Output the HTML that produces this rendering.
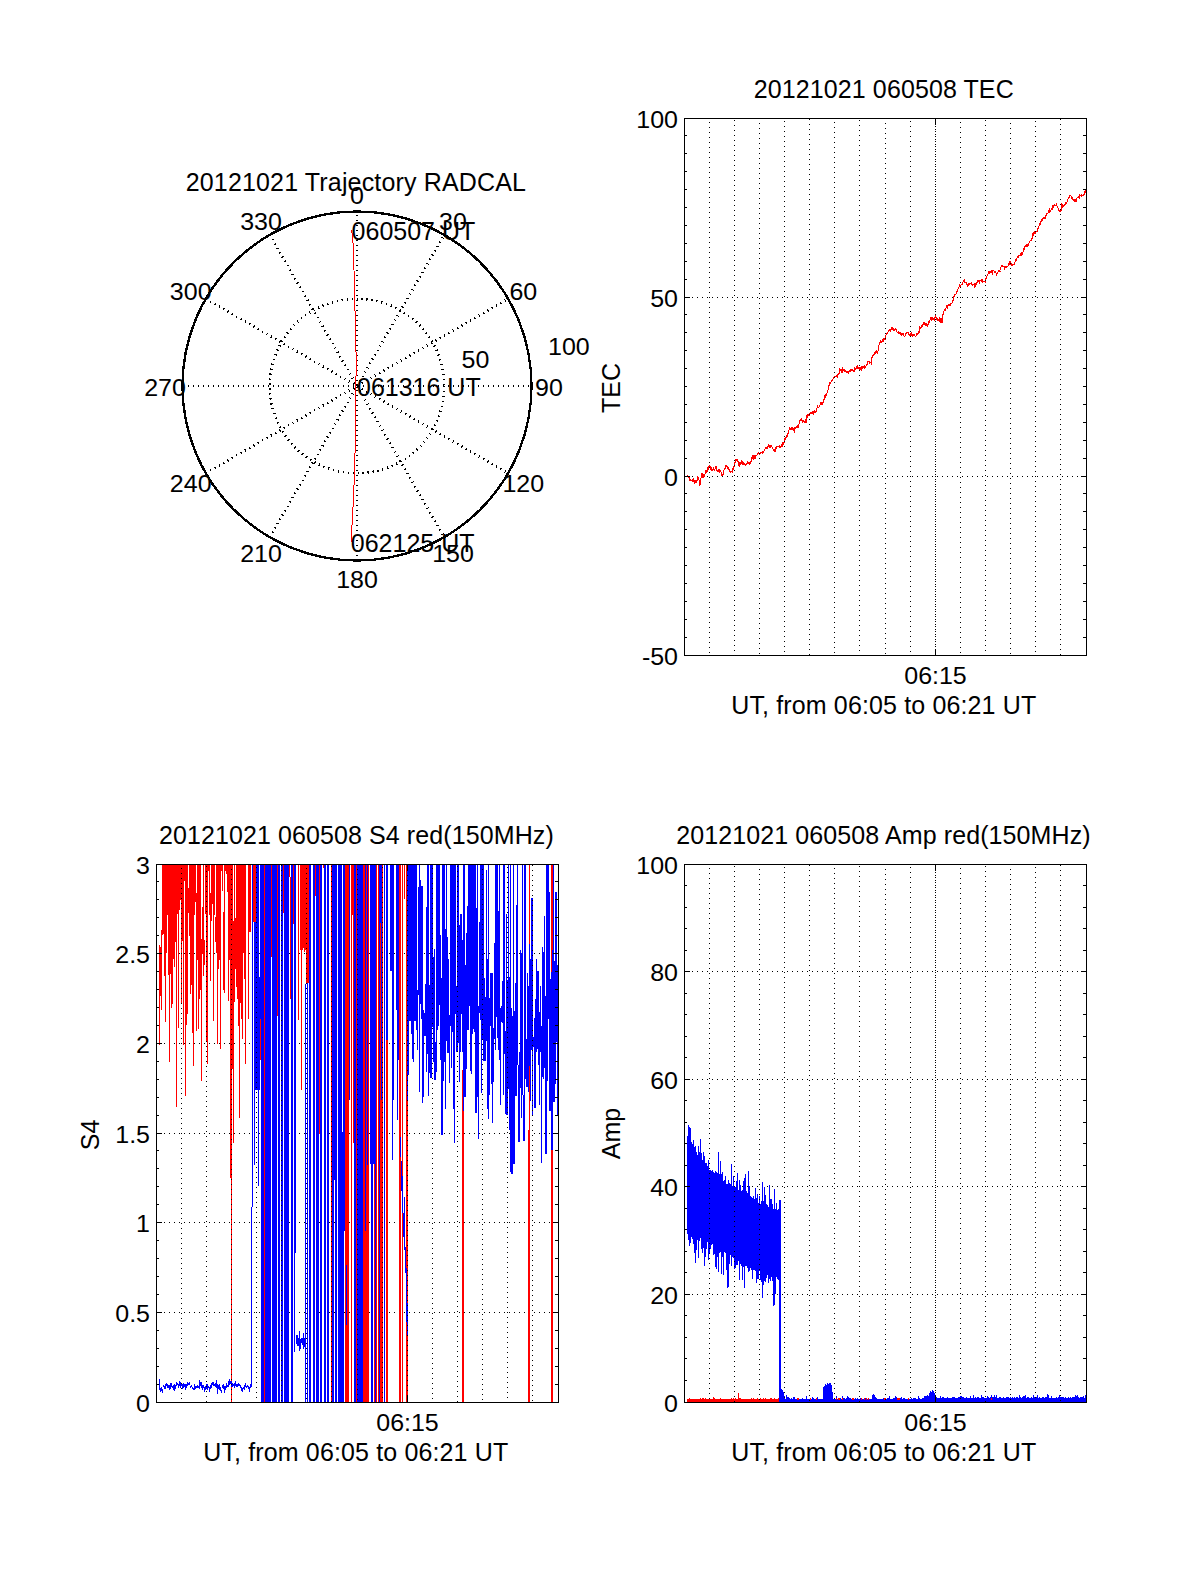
<!DOCTYPE html>
<html lang="en">
<head>
<meta charset="utf-8">
<title>20121021 RADCAL TEC / S4 / Amp</title>
<style>
html,body{margin:0;padding:0;background:#fff;}
body{width:1200px;height:1575px;overflow:hidden;font-family:"Liberation Sans",sans-serif;}
svg{display:block;}
text{font-family:"Liberation Sans",sans-serif;}
</style>
</head>
<body>
<svg width="1200" height="1575" viewBox="0 0 1200 1575">
<rect width="1200" height="1575" fill="#fff"/>
<g id="polar"><g stroke="#000" stroke-width="2.5" fill="none" shape-rendering="crispEdges" stroke-dasharray="1.25 3.75">
<circle cx="357.0" cy="386.0" r="87.25"/>
<line x1="357.00" y1="560.50" x2="357.00" y2="211.50" stroke-width="2" stroke-dasharray="1 4"/>
<line x1="269.75" y1="537.12" x2="444.25" y2="234.88"/>
<line x1="205.88" y1="473.25" x2="508.12" y2="298.75"/>
<line x1="182.50" y1="386.00" x2="531.50" y2="386.00" stroke-width="2" stroke-dasharray="1 4"/>
<line x1="205.88" y1="298.75" x2="508.12" y2="473.25"/>
<line x1="269.75" y1="234.88" x2="444.25" y2="537.12"/>
</g>
<circle cx="357.0" cy="386.0" r="174.5" stroke="#000" stroke-width="2.4" fill="none" shape-rendering="crispEdges"/>
<polyline fill="none" stroke="#f00" stroke-width="1" shape-rendering="crispEdges" points="351.5,230.5 352.5,236 353.5,249 354.5,290 355.5,330 356.2,360 355.9,386 355.5,430 354.7,468 353.3,502 352,525 351.0,542"/>
<g font-family="Liberation Sans, sans-serif" font-size="25" fill="#000">
<text transform="translate(357.0 204.1) scale(1 0.945)" text-anchor="middle" >0</text>
<text transform="translate(453.0 229.8) scale(1 0.945)" text-anchor="middle" >30</text>
<text transform="translate(523.3 300.1) scale(1 0.945)" text-anchor="middle" >60</text>
<text transform="translate(549.0 396.1) scale(1 0.945)" text-anchor="middle" >90</text>
<text transform="translate(523.3 492.1) scale(1 0.945)" text-anchor="middle" >120</text>
<text transform="translate(453.0 562.4) scale(1 0.945)" text-anchor="middle" >150</text>
<text transform="translate(357.0 588.1) scale(1 0.945)" text-anchor="middle" >180</text>
<text transform="translate(261.0 562.4) scale(1 0.945)" text-anchor="middle" >210</text>
<text transform="translate(190.7 492.1) scale(1 0.945)" text-anchor="middle" >240</text>
<text transform="translate(165.0 396.1) scale(1 0.945)" text-anchor="middle" >270</text>
<text transform="translate(190.7 300.1) scale(1 0.945)" text-anchor="middle" >300</text>
<text transform="translate(261.0 229.8) scale(1 0.945)" text-anchor="middle" >330</text>
<text transform="translate(461.6 367.5) scale(1 0.945)" text-anchor="start" >50</text>
<text transform="translate(548.0 355.3) scale(1 0.945)" text-anchor="start" >100</text>
<text x="351.6" y="240.2" text-anchor="start" >060507 UT</text>
<text x="357.0" y="395.5" text-anchor="start" >061316 UT</text>
<text x="350.8" y="552.0" text-anchor="start" >062125 UT</text>
<text x="185.7" y="190.5" text-anchor="start" letter-spacing="0.16">20121021 Trajectory RADCAL</text>
</g></g>
<g id="tec">
<g stroke="#000" stroke-width="1" shape-rendering="crispEdges" fill="none">
<line x1="935.5" y1="119" x2="935.5" y2="655" stroke-dasharray="1 4" stroke-dashoffset="-2"/>
<line x1="685" y1="297.5" x2="1086" y2="297.5" stroke-dasharray="1 4" stroke-dashoffset="-2"/>
<line x1="685" y1="476.5" x2="1086" y2="476.5" stroke-dasharray="1 4" stroke-dashoffset="-2"/>
</g>
<path d="M687.0,477.4 687.3,474.8 687.7,476.0 688.0,477.0 688.4,476.1 688.7,477.6 689.0,478.2 689.4,476.5 689.7,480.3 690.1,480.1 690.4,479.0 690.7,479.9 691.1,481.0 691.4,480.4 691.8,480.8 692.1,479.4 692.4,481.7 692.8,480.9 693.1,480.8 693.5,478.3 693.8,482.0 694.1,480.2 694.5,480.0 694.8,483.6 695.2,481.5 695.5,480.3 695.8,482.2 696.2,479.6 696.5,483.0 696.9,480.3 697.2,479.0 697.5,480.5 697.9,476.2 698.2,479.3 698.6,477.0 698.9,479.8 699.2,480.0 699.6,484.4 699.9,485.7 700.3,481.8 700.6,481.3 700.9,478.1 701.3,477.0 701.6,474.9 702.0,473.6 702.3,473.3 702.6,475.9 703.0,478.0 703.3,475.4 703.7,474.2 704.0,477.1 704.3,474.9 704.7,474.5 705.0,474.2 705.4,473.2 705.7,472.4 706.0,470.5 706.4,472.4 706.7,471.1 707.1,472.1 707.4,469.6 707.7,467.1 708.1,468.7 708.4,470.4 708.8,467.2 709.1,466.0 709.4,465.3 709.8,465.7 710.1,466.9 710.5,466.0 710.8,469.6 711.1,467.7 711.5,468.4 711.8,470.3 712.2,470.6 712.5,468.7 712.8,469.5 713.2,470.2 713.5,469.2 713.9,467.4 714.2,470.6 714.5,471.1 714.9,470.0 715.2,467.5 715.6,467.5 715.9,466.2 716.2,466.9 716.6,469.6 716.9,470.7 717.3,470.4 717.6,471.1 717.9,472.0 718.3,471.0 718.6,470.6 719.0,469.5 719.3,470.0 719.6,472.5 720.0,470.4 720.3,470.1 720.7,471.2 721.0,471.9 721.3,474.7 721.7,476.0 722.0,474.8 722.4,476.1 722.7,473.7 723.0,475.1 723.4,472.4 723.7,473.2 724.1,469.4 724.4,468.5 724.7,468.3 725.1,468.9 725.4,468.0 725.8,465.4 726.1,466.8 726.4,466.3 726.8,465.6 727.1,465.9 727.5,469.4 727.8,467.2 728.1,467.2 728.5,469.5 728.8,469.4 729.2,469.6 729.5,471.1 729.8,471.1 730.2,471.3 730.5,472.4 730.9,471.9 731.2,471.1 731.5,471.8 731.9,471.9 732.2,472.4 732.6,470.0 732.9,468.3 733.2,469.9 733.6,467.3 733.9,465.7 734.3,467.0 734.6,463.8 734.9,463.5 735.3,460.3 735.6,459.3 736.0,459.1 736.3,460.0 736.6,460.3 737.0,459.6 737.3,460.3 737.7,459.5 738.0,462.2 738.3,460.8 738.7,463.6 739.0,465.5 739.4,466.6 739.7,466.8 740.0,462.1 740.4,464.3 740.7,464.3 741.1,463.3 741.4,460.5 741.7,462.5 742.1,464.6 742.4,460.7 742.8,463.4 743.1,464.5 743.4,462.6 743.8,464.5 744.1,462.8 744.5,463.4 744.8,463.8 745.1,465.4 745.5,465.0 745.8,465.9 746.2,463.1 746.5,463.7 746.8,464.7 747.2,463.7 747.5,460.9 747.9,463.0 748.2,461.7 748.5,463.2 748.9,463.5 749.2,465.2 749.6,464.2 749.9,462.2 750.2,462.2 750.6,463.6 750.9,461.3 751.3,461.9 751.6,459.7 751.9,457.3 752.3,459.3 752.6,456.8 753.0,455.1 753.3,460.1 753.6,455.1 754.0,458.1 754.3,458.5 754.7,457.5 755.0,455.2 755.3,458.6 755.7,455.5 756.0,455.6 756.4,455.8 756.7,456.2 757.0,454.6 757.4,454.4 757.7,452.9 758.1,453.3 758.4,452.2 758.7,453.3 759.1,454.5 759.4,453.5 759.8,454.5 760.1,453.2 760.4,452.7 760.8,453.0 761.1,452.3 761.5,452.8 761.8,451.8 762.1,453.6 762.5,451.5 762.8,451.9 763.2,451.2 763.5,452.3 763.8,452.3 764.2,449.8 764.5,449.8 764.9,450.0 765.2,448.2 765.5,447.2 765.9,448.9 766.2,447.7 766.6,447.9 766.9,448.7 767.2,448.5 767.6,446.4 767.9,446.0 768.3,447.0 768.6,446.4 768.9,444.1 769.3,447.9 769.6,446.3 770.0,447.1 770.3,444.6 770.6,447.6 771.0,445.6 771.3,446.5 771.7,445.2 772.0,447.1 772.3,447.4 772.7,447.8 773.0,449.1 773.4,449.2 773.7,450.9 774.0,449.7 774.4,449.6 774.7,451.2 775.1,451.2 775.4,451.2 775.7,449.8 776.1,445.8 776.4,447.7 776.8,448.5 777.1,446.6 777.4,445.8 777.8,446.8 778.1,445.7 778.5,447.0 778.8,446.1 779.1,447.8 779.5,446.7 779.8,445.3 780.2,447.0 780.5,447.6 780.8,445.8 781.2,446.1 781.5,443.6 781.9,447.3 782.2,445.1 782.5,442.8 782.9,442.9 783.2,444.5 783.6,444.9 783.9,442.7 784.2,442.2 784.6,439.1 784.9,437.7 785.3,439.4 785.6,438.3 785.9,437.2 786.3,438.3 786.6,435.1 787.0,435.3 787.3,436.7 787.6,436.6 788.0,433.2 788.3,434.1 788.7,430.2 789.0,430.2 789.3,428.4 789.7,426.7 790.0,429.0 790.4,429.8 790.7,428.5 791.0,428.6 791.4,430.4 791.7,427.1 792.1,426.8 792.4,428.0 792.7,427.4 793.1,430.7 793.4,429.5 793.8,428.2 794.1,428.5 794.4,432.5 794.8,427.8 795.1,427.3 795.5,428.3 795.8,428.3 796.1,427.6 796.5,426.2 796.8,425.9 797.2,428.1 797.5,427.3 797.8,425.3 798.2,428.3 798.5,426.7 798.9,424.5 799.2,423.4 799.5,423.0 799.9,420.8 800.2,419.5 800.6,421.4 800.9,418.9 801.2,421.0 801.6,418.5 801.9,419.9 802.3,420.2 802.6,423.0 802.9,419.9 803.3,419.9 803.6,421.4 804.0,421.2 804.3,421.5 804.6,422.3 805.0,422.3 805.3,423.0 805.7,419.5 806.0,423.3 806.3,421.9 806.7,418.6 807.0,415.4 807.4,417.6 807.7,417.3 808.0,413.7 808.4,416.1 808.7,415.2 809.1,413.9 809.4,415.1 809.7,415.0 810.1,412.7 810.4,413.6 810.8,412.5 811.1,412.4 811.4,413.4 811.8,414.0 812.1,412.6 812.5,410.6 812.8,414.0 813.1,411.0 813.5,412.9 813.8,414.7 814.2,412.2 814.5,410.5 814.8,409.9 815.2,412.9 815.5,411.1 815.9,411.3 816.2,411.3 816.5,409.7 816.9,408.9 817.2,407.6 817.6,405.1 817.9,406.4 818.2,407.7 818.6,406.9 818.9,407.1 819.3,405.8 819.6,405.6 819.9,405.8 820.3,403.3 820.6,403.8 821.0,401.9 821.3,404.8 821.6,403.4 822.0,403.7 822.3,404.7 822.7,403.9 823.0,402.2 823.3,403.0 823.7,399.1 824.0,400.3 824.4,398.8 824.7,395.4 825.0,398.0 825.4,394.4 825.7,395.7 826.1,393.8 826.4,395.2 826.7,395.1 827.1,392.0 827.4,390.3 827.8,390.4 828.1,389.9 828.4,386.7 828.8,385.1 829.1,386.0 829.5,381.6 829.8,383.8 830.1,382.4 830.5,384.1 830.8,382.4 831.2,381.5 831.5,381.9 831.8,379.8 832.2,381.0 832.5,379.4 832.9,379.1 833.2,378.0 833.5,379.4 833.9,377.4 834.2,377.8 834.6,377.6 834.9,375.7 835.2,377.2 835.6,376.7 835.9,376.4 836.3,375.3 836.6,375.1 836.9,376.4 837.3,377.9 837.6,373.9 838.0,375.4 838.3,373.6 838.6,374.4 839.0,373.3 839.3,373.4 839.7,367.9 840.0,369.9 840.3,369.4 840.7,370.5 841.0,369.8 841.4,369.9 841.7,371.5 842.0,373.0 842.4,367.1 842.7,370.3 843.1,371.1 843.4,370.7 843.7,370.2 844.1,369.0 844.4,369.5 844.8,371.6 845.1,372.2 845.4,371.2 845.8,370.2 846.1,371.5 846.5,371.3 846.8,372.4 847.1,372.1 847.5,371.3 847.8,372.5 848.2,370.9 848.5,373.6 848.8,373.9 849.2,370.6 849.5,372.1 849.9,369.9 850.2,372.1 850.5,371.5 850.9,369.6 851.2,370.7 851.6,369.0 851.9,369.1 852.2,369.5 852.6,370.4 852.9,370.5 853.3,371.5 853.6,370.2 853.9,371.6 854.3,371.5 854.6,369.2 855.0,367.6 855.3,369.9 855.6,370.0 856.0,368.0 856.3,366.1 856.7,367.7 857.0,369.4 857.3,365.3 857.7,368.4 858.0,367.6 858.4,367.1 858.7,369.0 859.0,366.9 859.4,369.1 859.7,370.5 860.1,369.3 860.4,368.1 860.7,367.1 861.1,367.5 861.4,366.5 861.8,370.6 862.1,368.1 862.4,366.8 862.8,366.3 863.1,366.4 863.5,367.1 863.8,365.6 864.1,369.1 864.5,365.9 864.8,365.5 865.2,366.5 865.5,367.5 865.8,367.0 866.2,364.3 866.5,364.8 866.9,364.3 867.2,364.4 867.5,363.6 867.9,361.7 868.2,360.9 868.6,362.3 868.9,360.6 869.2,364.0 869.6,362.5 869.9,361.3 870.3,362.4 870.6,362.3 870.9,363.0 871.3,364.5 871.6,359.8 872.0,357.2 872.3,358.0 872.6,355.3 873.0,355.2 873.3,355.2 873.7,354.1 874.0,355.0 874.3,352.5 874.7,353.4 875.0,351.9 875.4,351.2 875.7,353.3 876.0,353.2 876.4,350.0 876.7,350.9 877.1,352.6 877.4,353.5 877.7,351.2 878.1,351.1 878.4,346.9 878.8,349.1 879.1,343.8 879.4,342.4 879.8,342.1 880.1,342.3 880.5,341.9 880.8,340.6 881.1,341.9 881.5,341.0 881.8,342.5 882.2,339.8 882.5,340.0 882.8,341.3 883.2,341.6 883.5,339.8 883.9,338.3 884.2,338.6 884.5,337.7 884.9,340.3 885.2,338.6 885.6,338.1 885.9,335.7 886.2,333.5 886.6,334.4 886.9,334.5 887.3,332.9 887.6,331.9 887.9,333.0 888.3,330.9 888.6,332.1 889.0,329.9 889.3,329.3 889.6,331.0 890.0,330.4 890.3,332.3 890.7,329.4 891.0,329.6 891.3,328.0 891.7,327.0 892.0,327.0 892.4,329.6 892.7,327.4 893.0,330.2 893.4,330.5 893.7,328.4 894.1,330.9 894.4,329.2 894.7,330.4 895.1,328.8 895.4,330.4 895.8,328.1 896.1,330.3 896.4,329.5 896.8,330.5 897.1,332.0 897.5,332.0 897.8,332.2 898.1,333.6 898.5,333.8 898.8,331.2 899.2,333.8 899.5,334.0 899.8,332.3 900.2,333.9 900.5,331.9 900.9,335.4 901.2,333.4 901.5,333.7 901.9,335.5 902.2,334.0 902.6,335.2 902.9,333.4 903.2,334.2 903.6,333.4 903.9,335.2 904.3,337.0 904.6,336.2 904.9,336.7 905.3,333.8 905.6,333.5 906.0,333.5 906.3,334.3 906.6,333.5 907.0,332.5 907.3,332.8 907.7,332.1 908.0,332.6 908.3,334.6 908.7,332.6 909.0,333.9 909.4,336.0 909.7,334.5 910.0,335.6 910.4,334.0 910.7,337.3 911.1,332.1 911.4,333.5 911.7,333.7 912.1,337.1 912.4,335.6 912.8,334.9 913.1,333.7 913.4,335.9 913.8,335.8 914.1,335.0 914.5,334.2 914.8,334.9 915.1,336.8 915.5,336.9 915.8,336.2 916.2,335.5 916.5,333.1 916.8,334.9 917.2,333.2 917.5,334.1 917.9,334.2 918.2,332.4 918.5,331.5 918.9,333.3 919.2,331.6 919.6,329.5 919.9,325.6 920.2,328.4 920.6,328.4 920.9,328.5 921.3,325.9 921.6,325.6 921.9,325.5 922.3,326.8 922.6,323.9 923.0,324.9 923.3,323.5 923.6,324.7 924.0,322.1 924.3,324.6 924.7,323.6 925.0,324.1 925.3,325.2 925.7,326.1 926.0,322.7 926.4,326.2 926.7,325.8 927.0,324.8 927.4,327.0 927.7,324.6 928.1,325.1 928.4,321.9 928.7,320.7 929.1,322.5 929.4,322.8 929.8,320.1 930.1,319.8 930.4,318.1 930.8,317.1 931.1,318.6 931.5,320.8 931.8,316.6 932.1,318.4 932.5,316.7 932.8,319.3 933.2,320.3 933.5,317.7 933.8,318.8 934.2,320.8 934.5,318.7 934.9,316.9 935.2,316.5 935.5,315.3 935.9,318.4 936.2,316.7 936.6,319.3 936.9,319.5 937.2,318.1 937.6,318.6 937.9,320.7 938.3,320.3 938.6,320.9 938.9,318.6 939.3,321.7 939.6,319.4 940.0,317.6 940.3,319.6 940.6,320.8 941.0,322.8 941.3,319.7 941.7,318.4 942.0,322.7 942.3,318.7 942.7,316.7 943.0,314.2 943.4,312.9 943.7,314.5 944.0,310.9 944.4,310.0 944.7,309.4 945.1,311.4 945.4,308.1 945.7,309.1 946.1,308.0 946.4,307.4 946.8,305.5 947.1,307.4 947.4,308.5 947.8,306.3 948.1,305.2 948.5,304.6 948.8,306.4 949.1,305.7 949.5,305.7 949.8,305.4 950.2,303.1 950.5,305.5 950.8,304.4 951.2,303.6 951.5,303.6 951.9,304.0 952.2,302.2 952.5,300.3 952.9,301.9 953.2,299.1 953.6,297.9 953.9,296.0 954.2,297.1 954.6,294.9 954.9,294.7 955.3,295.1 955.6,293.7 955.9,294.1 956.3,293.0 956.6,292.2 957.0,291.5 957.3,290.3 957.6,290.9 958.0,289.2 958.3,287.7 958.7,288.4 959.0,287.2 959.3,286.2 959.7,284.6 960.0,286.8 960.4,286.3 960.7,285.8 961.0,284.9 961.4,284.1 961.7,284.6 962.1,284.8 962.4,283.6 962.7,282.8 963.1,281.6 963.4,281.8 963.8,280.9 964.1,279.2 964.4,281.7 964.8,282.4 965.1,283.0 965.5,282.5 965.8,283.0 966.1,282.4 966.5,285.4 966.8,282.4 967.2,285.2 967.5,285.5 967.8,286.7 968.2,285.4 968.5,284.0 968.9,283.2 969.2,283.8 969.5,284.7 969.9,284.4 970.2,283.8 970.6,283.0 970.9,283.4 971.2,284.6 971.6,282.1 971.9,283.7 972.3,285.9 972.6,284.8 972.9,283.7 973.3,285.3 973.6,283.8 974.0,284.9 974.3,287.1 974.6,287.7 975.0,282.9 975.3,285.6 975.7,286.8 976.0,283.3 976.3,284.0 976.7,285.2 977.0,282.4 977.4,283.2 977.7,282.2 978.0,279.6 978.4,282.1 978.7,281.2 979.1,282.4 979.4,283.6 979.7,281.5 980.1,280.0 980.4,280.7 980.8,280.3 981.1,281.7 981.4,279.0 981.8,279.7 982.1,278.9 982.5,282.6 982.8,282.1 983.1,281.7 983.5,281.7 983.8,281.6 984.2,281.0 984.5,281.5 984.8,281.0 985.2,283.2 985.5,281.1 985.9,278.4 986.2,277.4 986.5,278.4 986.9,276.2 987.2,274.8 987.6,274.8 987.9,275.6 988.2,271.9 988.6,272.3 988.9,270.9 989.3,273.5 989.6,272.2 989.9,271.6 990.3,271.3 990.6,272.9 991.0,271.8 991.3,271.2 991.6,273.4 992.0,270.4 992.3,270.1 992.7,274.8 993.0,271.1 993.3,270.8 993.7,270.5 994.0,271.2 994.4,272.7 994.7,273.0 995.0,273.1 995.4,272.4 995.7,271.2 996.1,273.7 996.4,275.6 996.7,275.2 997.1,273.3 997.4,274.1 997.8,272.2 998.1,272.1 998.4,270.2 998.8,271.0 999.1,271.1 999.5,270.3 999.8,270.9 1000.1,271.7 1000.5,270.5 1000.8,267.9 1001.2,266.8 1001.5,266.4 1001.8,265.4 1002.2,266.2 1002.5,266.1 1002.9,265.8 1003.2,266.1 1003.5,266.4 1003.9,266.4 1004.2,266.0 1004.6,269.4 1004.9,268.9 1005.2,266.8 1005.6,266.6 1005.9,266.5 1006.3,266.9 1006.6,268.0 1006.9,267.3 1007.3,266.9 1007.6,266.5 1008.0,266.1 1008.3,265.3 1008.6,264.6 1009.0,263.5 1009.3,261.2 1009.7,262.8 1010.0,264.9 1010.3,261.7 1010.7,261.2 1011.0,263.9 1011.4,263.3 1011.7,263.1 1012.0,266.2 1012.4,265.6 1012.7,266.2 1013.1,264.0 1013.4,264.9 1013.7,264.2 1014.1,264.2 1014.4,264.1 1014.8,263.6 1015.1,261.9 1015.4,262.0 1015.8,259.2 1016.1,261.0 1016.5,260.5 1016.8,258.6 1017.1,257.6 1017.5,258.0 1017.8,256.0 1018.2,257.4 1018.5,256.8 1018.8,254.7 1019.2,255.4 1019.5,256.1 1019.9,255.6 1020.2,255.1 1020.5,253.4 1020.9,252.9 1021.2,252.6 1021.6,253.6 1021.9,255.5 1022.2,254.1 1022.6,254.0 1022.9,253.1 1023.3,248.6 1023.6,249.6 1023.9,248.6 1024.3,249.9 1024.6,249.7 1025.0,246.0 1025.3,246.1 1025.6,246.6 1026.0,245.2 1026.3,245.0 1026.7,244.8 1027.0,246.7 1027.3,244.4 1027.7,246.8 1028.0,245.4 1028.4,245.7 1028.7,246.1 1029.0,242.8 1029.4,242.1 1029.7,243.1 1030.1,240.7 1030.4,240.6 1030.7,240.8 1031.1,240.6 1031.4,238.2 1031.8,238.2 1032.1,238.4 1032.4,238.4 1032.8,233.2 1033.1,236.3 1033.5,235.0 1033.8,232.3 1034.1,231.6 1034.5,233.7 1034.8,232.4 1035.2,232.8 1035.5,233.4 1035.8,231.7 1036.2,231.8 1036.5,231.4 1036.9,231.2 1037.2,231.5 1037.5,230.7 1037.9,228.1 1038.2,226.7 1038.6,229.2 1038.9,226.5 1039.2,225.7 1039.6,223.4 1039.9,225.2 1040.3,222.8 1040.6,222.7 1040.9,221.2 1041.3,221.7 1041.6,221.9 1042.0,219.5 1042.3,219.9 1042.6,220.5 1043.0,218.6 1043.3,218.2 1043.7,218.3 1044.0,217.2 1044.3,219.3 1044.7,216.9 1045.0,218.7 1045.4,218.4 1045.7,215.1 1046.0,216.0 1046.4,214.6 1046.7,213.1 1047.1,213.5 1047.4,212.9 1047.7,213.4 1048.1,213.2 1048.4,210.3 1048.8,210.9 1049.1,211.8 1049.4,212.4 1049.8,207.6 1050.1,212.0 1050.5,209.9 1050.8,211.8 1051.1,209.0 1051.5,208.2 1051.8,208.9 1052.2,210.0 1052.5,208.2 1052.8,204.9 1053.2,208.3 1053.5,205.2 1053.9,205.8 1054.2,205.4 1054.5,204.3 1054.9,204.8 1055.2,205.0 1055.6,205.2 1055.9,205.7 1056.2,205.2 1056.6,203.5 1056.9,205.5 1057.3,207.5 1057.6,208.0 1057.9,207.5 1058.3,208.7 1058.6,209.6 1059.0,210.7 1059.3,211.7 1059.6,209.7 1060.0,210.3 1060.3,212.0 1060.7,211.6 1061.0,211.0 1061.3,205.6 1061.7,207.7 1062.0,203.4 1062.4,207.8 1062.7,206.4 1063.0,205.9 1063.4,205.1 1063.7,206.7 1064.1,204.4 1064.4,205.8 1064.7,204.9 1065.1,204.4 1065.4,204.2 1065.8,203.5 1066.1,201.8 1066.4,203.7 1066.8,203.4 1067.1,201.7 1067.5,202.1 1067.8,201.7 1068.1,198.4 1068.5,199.2 1068.8,198.2 1069.2,197.0 1069.5,197.9 1069.8,195.8 1070.2,195.7 1070.5,195.9 1070.9,196.1 1071.2,196.5 1071.5,199.4 1071.9,196.5 1072.2,198.0 1072.6,196.7 1072.9,199.3 1073.2,200.6 1073.6,201.0 1073.9,198.9 1074.3,199.6 1074.6,201.8 1074.9,200.3 1075.3,201.8 1075.6,199.1 1076.0,201.6 1076.3,200.7 1076.6,199.6 1077.0,197.6 1077.3,198.0 1077.7,197.9 1078.0,197.7 1078.3,197.1 1078.7,196.9 1079.0,197.4 1079.4,198.8 1079.7,194.5 1080.0,195.2 1080.4,194.9 1080.7,195.9 1081.1,194.5 1081.4,197.3 1081.7,196.5 1082.1,195.8 1082.4,195.0 1082.8,195.8 1083.1,195.6 1083.4,195.5 1083.8,193.9 1084.1,195.4 1084.5,192.4 1084.8,195.4 1085.1,189.7 1085.5,192.4 1085.8,191.3 1086.2,193.7 1086.5,190.8" stroke="#f00" stroke-width="1" fill="none" shape-rendering="crispEdges" stroke-linejoin="bevel"/>
<g stroke="#000" stroke-width="1" shape-rendering="crispEdges" fill="none">
<line x1="709.5" y1="119" x2="709.5" y2="655" stroke-dasharray="1 4" stroke-dashoffset="-3"/>
<line x1="734.5" y1="119" x2="734.5" y2="655" stroke-dasharray="1 4" stroke-dashoffset="-1"/>
<line x1="759.5" y1="119" x2="759.5" y2="655" stroke-dasharray="1 4" stroke-dashoffset="-4"/>
<line x1="784.5" y1="119" x2="784.5" y2="655" stroke-dasharray="1 4" stroke-dashoffset="-2"/>
<line x1="809.5" y1="119" x2="809.5" y2="655" stroke-dasharray="1 4" stroke-dashoffset="0"/>
<line x1="834.5" y1="119" x2="834.5" y2="655" stroke-dasharray="1 4" stroke-dashoffset="-3"/>
<line x1="859.5" y1="119" x2="859.5" y2="655" stroke-dasharray="1 4" stroke-dashoffset="-1"/>
<line x1="885.5" y1="119" x2="885.5" y2="655" stroke-dasharray="1 4" stroke-dashoffset="-4"/>
<line x1="910.5" y1="119" x2="910.5" y2="655" stroke-dasharray="1 4" stroke-dashoffset="-2"/>
<line x1="935.5" y1="119" x2="935.5" y2="655" stroke-dasharray="1 4" stroke-dashoffset="0"/>
<line x1="960.5" y1="119" x2="960.5" y2="655" stroke-dasharray="1 4" stroke-dashoffset="-3"/>
<line x1="985.5" y1="119" x2="985.5" y2="655" stroke-dasharray="1 4" stroke-dashoffset="-1"/>
<line x1="1010.5" y1="119" x2="1010.5" y2="655" stroke-dasharray="1 4" stroke-dashoffset="-4"/>
<line x1="1035.5" y1="119" x2="1035.5" y2="655" stroke-dasharray="1 4" stroke-dashoffset="-2"/>
<line x1="1060.5" y1="119" x2="1060.5" y2="655" stroke-dasharray="1 4" stroke-dashoffset="0"/>
</g>
<g fill="#000" shape-rendering="crispEdges">
<rect x="684" y="118" width="403" height="1" fill="#000"/>
<rect x="684" y="655" width="403" height="1" fill="#000"/>
<rect x="684" y="118" width="1" height="538" fill="#000"/>
<rect x="1086" y="118" width="1" height="538" fill="#000"/>
<rect x="685" y="118" width="5" height="1" fill="#000"/>
<rect x="1081" y="118" width="5" height="1" fill="#000"/>
<rect x="685" y="297" width="5" height="1" fill="#000"/>
<rect x="1081" y="297" width="5" height="1" fill="#000"/>
<rect x="685" y="476" width="5" height="1" fill="#000"/>
<rect x="1081" y="476" width="5" height="1" fill="#000"/>
<rect x="685" y="655" width="5" height="1" fill="#000"/>
<rect x="1081" y="655" width="5" height="1" fill="#000"/>
<rect x="685" y="135" width="2" height="1" fill="#000"/>
<rect x="1083" y="135" width="3" height="1" fill="#000"/>
<rect x="685" y="153" width="2" height="1" fill="#000"/>
<rect x="1083" y="153" width="3" height="1" fill="#000"/>
<rect x="685" y="171" width="2" height="1" fill="#000"/>
<rect x="1083" y="171" width="3" height="1" fill="#000"/>
<rect x="685" y="189" width="2" height="1" fill="#000"/>
<rect x="1083" y="189" width="3" height="1" fill="#000"/>
<rect x="685" y="207" width="2" height="1" fill="#000"/>
<rect x="1083" y="207" width="3" height="1" fill="#000"/>
<rect x="685" y="225" width="2" height="1" fill="#000"/>
<rect x="1083" y="225" width="3" height="1" fill="#000"/>
<rect x="685" y="243" width="2" height="1" fill="#000"/>
<rect x="1083" y="243" width="3" height="1" fill="#000"/>
<rect x="685" y="261" width="2" height="1" fill="#000"/>
<rect x="1083" y="261" width="3" height="1" fill="#000"/>
<rect x="685" y="279" width="2" height="1" fill="#000"/>
<rect x="1083" y="279" width="3" height="1" fill="#000"/>
<rect x="685" y="314" width="2" height="1" fill="#000"/>
<rect x="1083" y="314" width="3" height="1" fill="#000"/>
<rect x="685" y="332" width="2" height="1" fill="#000"/>
<rect x="1083" y="332" width="3" height="1" fill="#000"/>
<rect x="685" y="350" width="2" height="1" fill="#000"/>
<rect x="1083" y="350" width="3" height="1" fill="#000"/>
<rect x="685" y="368" width="2" height="1" fill="#000"/>
<rect x="1083" y="368" width="3" height="1" fill="#000"/>
<rect x="685" y="386" width="2" height="1" fill="#000"/>
<rect x="1083" y="386" width="3" height="1" fill="#000"/>
<rect x="685" y="404" width="2" height="1" fill="#000"/>
<rect x="1083" y="404" width="3" height="1" fill="#000"/>
<rect x="685" y="422" width="2" height="1" fill="#000"/>
<rect x="1083" y="422" width="3" height="1" fill="#000"/>
<rect x="685" y="440" width="2" height="1" fill="#000"/>
<rect x="1083" y="440" width="3" height="1" fill="#000"/>
<rect x="685" y="458" width="2" height="1" fill="#000"/>
<rect x="1083" y="458" width="3" height="1" fill="#000"/>
<rect x="685" y="493" width="2" height="1" fill="#000"/>
<rect x="1083" y="493" width="3" height="1" fill="#000"/>
<rect x="685" y="511" width="2" height="1" fill="#000"/>
<rect x="1083" y="511" width="3" height="1" fill="#000"/>
<rect x="685" y="529" width="2" height="1" fill="#000"/>
<rect x="1083" y="529" width="3" height="1" fill="#000"/>
<rect x="685" y="547" width="2" height="1" fill="#000"/>
<rect x="1083" y="547" width="3" height="1" fill="#000"/>
<rect x="685" y="565" width="2" height="1" fill="#000"/>
<rect x="1083" y="565" width="3" height="1" fill="#000"/>
<rect x="685" y="583" width="2" height="1" fill="#000"/>
<rect x="1083" y="583" width="3" height="1" fill="#000"/>
<rect x="685" y="601" width="2" height="1" fill="#000"/>
<rect x="1083" y="601" width="3" height="1" fill="#000"/>
<rect x="685" y="619" width="2" height="1" fill="#000"/>
<rect x="1083" y="619" width="3" height="1" fill="#000"/>
<rect x="685" y="637" width="2" height="1" fill="#000"/>
<rect x="1083" y="637" width="3" height="1" fill="#000"/>
<rect x="935" y="649" width="1" height="6" fill="#000"/>
<rect x="935" y="119" width="1" height="6" fill="#000"/>
</g>
<g font-family="Liberation Sans, sans-serif" font-size="25" fill="#000">
<text transform="translate(678 127.8) scale(1 0.945)" text-anchor="end" >100</text>
<text transform="translate(678 306.8) scale(1 0.945)" text-anchor="end" >50</text>
<text transform="translate(678 485.8) scale(1 0.945)" text-anchor="end" >0</text>
<text transform="translate(678 664.8) scale(1 0.945)" text-anchor="end" >-50</text>
<text x="753.8" y="97.7" text-anchor="start" letter-spacing="0.1">20121021 060508 TEC</text>
<text transform="translate(935.5 684.3) scale(1 0.945)" text-anchor="middle" >06:15</text>
<text x="731.2" y="714" text-anchor="start" letter-spacing="0.14">UT, from 06:05 to 06:21 UT</text>
<text transform="translate(620,388) rotate(-90)" text-anchor="middle">TEC</text>
</g>
</g>
<g id="s4">
<g stroke="#000" stroke-width="1" shape-rendering="crispEdges" fill="none">
<line x1="407.5" y1="865" x2="407.5" y2="1402" stroke-dasharray="1 4" stroke-dashoffset="-2"/>
<line x1="157" y1="953.5" x2="558" y2="953.5" stroke-dasharray="1 4" stroke-dashoffset="-2"/>
<line x1="157" y1="1043.5" x2="558" y2="1043.5" stroke-dasharray="1 4" stroke-dashoffset="-2"/>
<line x1="157" y1="1133.5" x2="558" y2="1133.5" stroke-dasharray="1 4" stroke-dashoffset="-2"/>
<line x1="157" y1="1222.5" x2="558" y2="1222.5" stroke-dasharray="1 4" stroke-dashoffset="-2"/>
<line x1="157" y1="1312.5" x2="558" y2="1312.5" stroke-dasharray="1 4" stroke-dashoffset="-2"/>
</g>
<path d="M159.5 945V1045M160.5 947V996M161.5 930V1010M162.5 865V935.0M163.5 865V933.7M164.5 865V976.4M165.5 865V1022.0M166.5 865V952.5M167.5 865V915.1M168.5 865V974.6M169.5 865V1061.8M170.5 865V973.5M171.5 865V1007.5M172.5 865V1004.2M173.5 865V959.2M174.5 865V966.7M175.5 865V941.9M176.5 865V1107.2M177.5 865V914.4M178.5 865V1027.6M179.5 865V910.4M180.5 865V900.4M181.5 865V1003.1M182.5 865V941.2M183.5 865V1045.2M184.5 865V880.5M185.5 865V1096.1M186.5 865V1025.4M187.5 865V1013.6M188.5 887.8V912.8M189.5 865V936.2M190.5 865V994.4M191.5 865V985.2M192.5 865V1032.5M193.5 865V1066.0M194.5 865V914.7M195.5 865V902.3M196.5 893.2V1030.9M197.5 865V959.6M198.5 865V1029.3M199.5 865V999.4M200.5 865V989.9M201.5 939.0V1081.0M202.5 906.8V953.8M203.5 865V976.3M204.5 940.2V965.2M205.5 865V913.6M206.5 865V1040.9M207.5 865V949.8M207.5 865V1064M208.5 865V871M209.5 865V915.1M210.5 893.3V981.1M211.5 865V920.6M212.5 865V904.3M213.5 865V1021.2M214.5 865V914.6M215.5 916.9V941.9M216.5 865V953.4M217.5 865V1044.3M218.5 865V969.1M219.5 865V959.9M220.5 865V1049.1M221.5 865V871M222.5 865V890.9M223.5 911.5V989.8M224.5 865V992.7M225.5 865V871M226.5 865V873.8M227.5 865V892.4M228.5 865V1001.1M229.5 865V960.0M230.5 865V894.6M230.5 865V1178M231.5 865V998.4M231.5 865V1402M232.5 865V1068.5M233.5 920.7V1142.6M234.5 865V1002.3M235.5 918.1V968.6M236.5 865V986.5M237.5 865V998.8M238.5 865V1025.6M239.5 865V1118.3M240.5 865V1002.8M241.5 865V1019.3M242.5 865V1039.4M243.5 865V953.1M244.5 865V979.3M245.5 865V967.2M245.5 865V1064M248.5 865V981.2M248.5 865V1019M249.5 865V915.7M249.5 865V932M250.5 865V912.7M250.5 865V932M253.5 865V922M254.5 865V922M255.5 865V922M260.5 1019V1060M264.5 865V1402M271.5 865V957M277.5 865V1016M283.5 865V913M289.5 865V877M290.5 877V999M293.5 865V924M298.5 865V1020M300.5 865V950M301.5 865V1090M302.5 865V950M303.5 865V948M304.5 865V952M305.5 865V950M306.5 865V983M307.5 865V983M308.5 865V983M315.5 865V896M318.5 1134V1154M319.5 865V1134M323.5 865V868M331.5 865V1402M339.5 1134V1402M345.5 865V1402M346.5 865V1402M347.5 865V1402M348.5 865V1402M351.5 865V1402M352.5 865V915M353.5 865V1143M356.5 865V1402M359.5 1134V1402M363.5 865V1402M364.5 865V1402M365.5 865V1402M366.5 865V1402M367.5 865V1402M368.5 865V1402M374.5 865V1402M376.5 865V1402M378.5 865V1402M380.5 923V1402M381.5 1100V1402M382.5 865V1402M386.5 865V1402M387.5 865V1402M399.5 865V1402M400.5 865V1402M402.5 865V1402M404.5 865V899M406.5 865V1402M407.5 865V1402M462.5 1070V1402M463.5 975V1402M528.5 1130V1402M529.5 865V1402M551.5 865V1402M552.5 865V950M552.5 1040V1402" stroke="#f00" stroke-width="1" fill="none" shape-rendering="crispEdges"/>
<path d="M159.5 1379.3V1389.6M160.5 1387.5V1391.5M161.5 1387.2V1391.2M162.5 1388.6V1392.8M163.5 1385.4V1387.4M164.5 1386.3V1388.5M165.5 1384.1V1388.8M166.5 1382.5V1385.6M167.5 1384.0V1387.9M168.5 1385.0V1387.7M169.5 1384.8V1390.0M170.5 1382.9V1389.4M171.5 1383.0V1387.0M172.5 1385.7V1388.2M173.5 1385.3V1390.0M174.5 1384.1V1391.1M175.5 1384.8V1388.7M176.5 1381.9V1386.1M177.5 1382.8V1385.3M178.5 1383.8V1388.1M179.5 1380.7V1385.8M180.5 1382.1V1387.9M181.5 1383.0V1385.7M182.5 1383.7V1389.0M183.5 1382.5V1388.1M184.5 1384.0V1386.8M185.5 1384.0V1389.6M186.5 1384.0V1387.9M187.5 1382.3V1386.1M188.5 1382.9V1385.0M189.5 1382.4V1384.8M190.5 1385.7V1388.1M191.5 1384.7V1387.1M192.5 1386.9V1389.0M193.5 1387.5V1389.9M194.5 1384.4V1389.9M195.5 1385.7V1389.0M196.5 1385.6V1388.4M197.5 1385.4V1388.1M198.5 1385.5V1387.7M199.5 1379.7V1389.3M200.5 1382.3V1385.7M201.5 1382.4V1387.7M202.5 1384.8V1389.7M203.5 1384.9V1387.5M204.5 1386.9V1391.9M205.5 1385.6V1389.6M206.5 1384.0V1388.9M207.5 1383.9V1389.7M208.5 1385.5V1388.0M209.5 1387.4V1392.0M210.5 1384.9V1388.8M211.5 1382.9V1388.0M212.5 1381.7V1385.1M213.5 1382.2V1385.5M214.5 1383.6V1385.9M215.5 1382.5V1386.8M216.5 1379.9V1387.6M217.5 1384.0V1394.1M218.5 1385.0V1388.6M219.5 1384.1V1389.8M220.5 1386.9V1391.3M221.5 1389.5V1393.4M222.5 1384.7V1388.2M223.5 1384.2V1389.3M224.5 1385.9V1392.5M225.5 1386.2V1390.1M226.5 1383.4V1387.9M227.5 1384.8V1387.0M228.5 1381.3V1386.5M229.5 1379.2V1384.5M230.5 1381.4V1383.6M231.5 1381.4V1386.7M232.5 1383.3V1387.2M233.5 1384.3V1386.3M234.5 1383.3V1387.8M235.5 1381.3V1386.4M236.5 1383.5V1387.1M237.5 1384.3V1386.7M238.5 1382.5V1385.9M239.5 1383.8V1385.9M240.5 1384.7V1388.4M241.5 1387.4V1391.0M242.5 1387.9V1391.6M243.5 1386.9V1388.9M244.5 1385.4V1389.7M245.5 1383.4V1387.1M246.5 1386.0V1388.3M247.5 1384.9V1387.4M248.5 1385.9V1389.4M249.5 1387.0V1391.5M250.5 1384.0V1387.7M251.5 1207V1387M251.5 1385.3V1387.0M252.5 865V1207M254.5 922V1165M255.5 922V1090M256.5 865V1090M257.5 865V1090M258.5 865V1186M259.5 977V1090M260.5 865V1019M261.5 865V1402M262.5 865V1402M263.5 865V1402M265.5 865V1402M266.5 865V1402M267.5 865V1402M268.5 865V1402M269.5 865V1402M270.5 865V1402M272.5 865V1402M273.5 865V1402M274.5 865V1402M275.5 865V1402M276.5 865V1402M278.5 865V1402M279.5 865V1402M281.5 865V1402M282.5 865V1402M284.5 865V1402M285.5 865V1402M286.5 865V1402M287.5 865V1402M288.5 865V1402M291.5 865V1402M292.5 865V1402M294.5 865V1352M295.5 865V1253M296.5 1334.7V1344.2M297.5 1335.3V1346.0M298.5 1337.7V1345.9M299.5 1331.4V1350.9M300.5 1339.1V1349.2M301.5 1338.1V1342.7M302.5 1338.4V1344.6M303.5 1333.4V1349.0M304.5 1337.5V1346.9M305.5 984V1402M307.5 983V1402M309.5 865V1402M310.5 865V1402M313.5 865V1402M314.5 865V1402M316.5 865V1402M317.5 865V1402M318.5 865V1402M320.5 865V1402M321.5 865V1402M324.5 865V1402M325.5 865V1402M327.5 865V1402M328.5 865V1402M332.5 865V1402M333.5 865V1402M334.5 865V1180M335.5 865V1402M336.5 865V1402M338.5 865V1402M339.5 865V1402M340.5 865V1402M341.5 865V1402M342.5 1132V1402M343.5 865V1402M344.5 865V1231M346.5 1265V1325M349.5 865V1100M354.5 865V1402M355.5 865V1402M357.5 865V1402M358.5 865V1402M359.5 865V1402M360.5 865V1402M361.5 865V1402M362.5 865V1402M365.5 865V1231M367.5 865V1165M370.5 865V1164M371.5 865V1402M372.5 865V1402M373.5 865V1164M374.5 865V1164M375.5 865V1402M379.5 865V1402M380.5 865V923M381.5 865V1100M384.5 865V1402M386.5 865V1040M387.5 865V1040M390.5 865V971M391.5 865V971M392.5 865V1160M393.5 865V1100M396.5 865V1010M397.5 865V1120M398.5 865V1060M400.5 1136.5V1157.0M401.5 1161.3V1191.0M402.5 1176.0V1213.3M403.5 1213.0V1236.5M404.5 1196.9V1250.4M405.5 1246.5V1273.2M406.5 1267.5V1321.5M407.5 865V1100M407.5 1302.7V1334.7M408.5 865V1074.8M409.5 865V1021.4M410.5 865V1021.4M411.5 865V1034.1M412.5 865V1059.0M413.5 865V1061.8M414.5 865V1021.4M415.5 865V1021.4M416.5 865V1030.0M417.5 989.5V1049.8M418.5 887.3V995.1M419.5 865V1092.2M420.5 880.4V1003.8M421.5 885.7V1019.0M422.5 885.7V1103.0M423.5 1010.0V1096.6M424.5 1012.9V1036.4M425.5 984.1V1036.4M426.5 907.1V1072.1M427.5 865V1053.6M428.5 865V1095.8M429.5 984.7V1073.3M430.5 865V1077.9M431.5 865V1077.9M432.5 865V1027.1M433.5 957.4V1062.0M434.5 949.2V1079.6M435.5 1042.4V1079.6M436.5 865V1072.4M437.5 865V1030.0M438.5 865V1025.6M439.5 865V1005.3M440.5 935.2V1059.7M441.5 977.9V1134.9M442.5 865V1134.9M443.5 865V1080.8M444.5 865V1061.8M445.5 928.8V1109.2M446.5 865V1041.3M447.5 936.6V1052.7M448.5 958.9V1052.7M449.5 1014.8V1083.0M450.5 865V1026.3M451.5 865V1067.8M452.5 865V1031.5M453.5 865V1109.1M454.5 865V1142.9M455.5 865V1014.1M456.5 985.6V1051.7M457.5 865V1051.9M458.5 865V1042.8M459.5 924.7V1081.5M460.5 913.9V1052.0M461.5 913.9V1013.5M462.5 940.2V1052.0M463.5 865V1111.1M464.5 865V1096.8M465.5 965.1V1096.8M466.5 933.2V1068.6M467.5 906.3V1029.5M468.5 865V1029.5M469.5 865V1006.4M470.5 865V1071.4M471.5 865V1073.9M472.5 865V1033.5M473.5 865V1028.6M474.5 865V1032.1M475.5 865V1113.0M476.5 907.9V1113.0M477.5 865V1096.7M478.5 1005.8V1138.5M479.5 921.8V1013.1M480.5 865V1019.5M481.5 865V1092.6M482.5 865V1039.6M483.5 865V1061.4M484.5 978.3V1061.4M485.5 997.1V1060.5M486.5 869.7V1041.2M487.5 959.0V1108.8M488.5 865V1118.5M489.5 997.9V1094.5M490.5 972.6V1025.7M491.5 972.9V1084.1M492.5 972.9V1122.7M493.5 1027.8V1082.3M494.5 942.8V1038.8M495.5 865V1049.9M496.5 865V1017.3M497.5 865V1037.8M498.5 910.8V1049.8M499.5 865V1060.3M500.5 1007.6V1104.5M501.5 1006.3V1022.1M502.5 981.1V1022.8M503.5 865V1094.6M504.5 865V1053.7M505.5 1030.8V1113.5M506.5 914.2V1115.1M507.5 979.6V1115.1M508.5 865V1089.2M509.5 977.3V1130.1M510.5 865V1172.2M511.5 1008.0V1174.2M512.5 1015.9V1174.2M513.5 865V1164.4M514.5 1011.3V1164.4M515.5 983.2V1096.3M516.5 905.4V1096.0M517.5 865V1065.0M518.5 1065.0V1141.7M519.5 1051.7V1141.7M520.5 950.4V1088.0M521.5 953.0V1118.1M522.5 865V1094.9M523.5 1094.9V1141.2M524.5 865V1141.2M525.5 865V1079.0M526.5 1038.9V1086.9M527.5 972.9V1086.9M528.5 985.6V1092.4M529.5 944V1065.6M530.5 958.6V1101.3M531.5 897.7V1049.5M532.5 897.7V1114.8M533.5 1037.1V1047.4M534.5 1017.5V1107.5M535.5 998.6V1107.5M536.5 958.7V1052.0M537.5 970.5V1048.7M538.5 970.5V1065.2M539.5 1012.1V1104.9M540.5 986.4V1052.4M541.5 1026.4V1162.6M542.5 946.5V1077.3M543.5 951.5V1079.1M544.5 915.8V1068.3M545.5 995.8V1154.1M546.5 865V1154.1M547.5 865V1081.2M548.5 865V1018.9M549.5 891.8V1110.8M550.5 978.7V1110.8M551.5 972V1150.0M552.5 950V1150.0M553.5 865V1101.8M554.5 961.0V1101.8M555.5 891.6V1083.9M556.5 891.6V1042.1M557.5 965.4V1115.4" stroke="#00f" stroke-width="1" fill="none" shape-rendering="crispEdges"/>
<g stroke="#000" stroke-width="1" shape-rendering="crispEdges" fill="none">
<line x1="181.5" y1="865" x2="181.5" y2="1402" stroke-dasharray="1 4" stroke-dashoffset="-3"/>
<line x1="206.5" y1="865" x2="206.5" y2="1402" stroke-dasharray="1 4" stroke-dashoffset="-1"/>
<line x1="231.5" y1="865" x2="231.5" y2="1402" stroke-dasharray="1 4" stroke-dashoffset="-4"/>
<line x1="256.5" y1="865" x2="256.5" y2="1402" stroke-dasharray="1 4" stroke-dashoffset="-2"/>
<line x1="281.5" y1="865" x2="281.5" y2="1402" stroke-dasharray="1 4" stroke-dashoffset="0"/>
<line x1="306.5" y1="865" x2="306.5" y2="1402" stroke-dasharray="1 4" stroke-dashoffset="-3"/>
<line x1="331.5" y1="865" x2="331.5" y2="1402" stroke-dasharray="1 4" stroke-dashoffset="-1"/>
<line x1="357.5" y1="865" x2="357.5" y2="1402" stroke-dasharray="1 4" stroke-dashoffset="-4"/>
<line x1="382.5" y1="865" x2="382.5" y2="1402" stroke-dasharray="1 4" stroke-dashoffset="-2"/>
<line x1="407.5" y1="865" x2="407.5" y2="1402" stroke-dasharray="1 4" stroke-dashoffset="0"/>
<line x1="432.5" y1="865" x2="432.5" y2="1402" stroke-dasharray="1 4" stroke-dashoffset="-3"/>
<line x1="457.5" y1="865" x2="457.5" y2="1402" stroke-dasharray="1 4" stroke-dashoffset="-1"/>
<line x1="482.5" y1="865" x2="482.5" y2="1402" stroke-dasharray="1 4" stroke-dashoffset="-4"/>
<line x1="507.5" y1="865" x2="507.5" y2="1402" stroke-dasharray="1 4" stroke-dashoffset="-2"/>
<line x1="532.5" y1="865" x2="532.5" y2="1402" stroke-dasharray="1 4" stroke-dashoffset="0"/>
</g>
<g fill="#000" shape-rendering="crispEdges">
<rect x="156" y="864" width="403" height="1" fill="#000"/>
<rect x="156" y="1402" width="403" height="1" fill="#000"/>
<rect x="156" y="864" width="1" height="539" fill="#000"/>
<rect x="558" y="864" width="1" height="539" fill="#000"/>
<rect x="157" y="864" width="5" height="1" fill="#000"/>
<rect x="553" y="864" width="5" height="1" fill="#000"/>
<rect x="157" y="953" width="5" height="1" fill="#000"/>
<rect x="553" y="953" width="5" height="1" fill="#000"/>
<rect x="157" y="1043" width="5" height="1" fill="#000"/>
<rect x="553" y="1043" width="5" height="1" fill="#000"/>
<rect x="157" y="1133" width="5" height="1" fill="#000"/>
<rect x="553" y="1133" width="5" height="1" fill="#000"/>
<rect x="157" y="1222" width="5" height="1" fill="#000"/>
<rect x="553" y="1222" width="5" height="1" fill="#000"/>
<rect x="157" y="1312" width="5" height="1" fill="#000"/>
<rect x="553" y="1312" width="5" height="1" fill="#000"/>
<rect x="157" y="1402" width="5" height="1" fill="#000"/>
<rect x="553" y="1402" width="5" height="1" fill="#000"/>
<rect x="157" y="881" width="2" height="1" fill="#000"/>
<rect x="555" y="881" width="3" height="1" fill="#000"/>
<rect x="157" y="899" width="2" height="1" fill="#000"/>
<rect x="555" y="899" width="3" height="1" fill="#000"/>
<rect x="157" y="917" width="2" height="1" fill="#000"/>
<rect x="555" y="917" width="3" height="1" fill="#000"/>
<rect x="157" y="935" width="2" height="1" fill="#000"/>
<rect x="555" y="935" width="3" height="1" fill="#000"/>
<rect x="157" y="971" width="2" height="1" fill="#000"/>
<rect x="555" y="971" width="3" height="1" fill="#000"/>
<rect x="157" y="989" width="2" height="1" fill="#000"/>
<rect x="555" y="989" width="3" height="1" fill="#000"/>
<rect x="157" y="1007" width="2" height="1" fill="#000"/>
<rect x="555" y="1007" width="3" height="1" fill="#000"/>
<rect x="157" y="1025" width="2" height="1" fill="#000"/>
<rect x="555" y="1025" width="3" height="1" fill="#000"/>
<rect x="157" y="1061" width="2" height="1" fill="#000"/>
<rect x="555" y="1061" width="3" height="1" fill="#000"/>
<rect x="157" y="1079" width="2" height="1" fill="#000"/>
<rect x="555" y="1079" width="3" height="1" fill="#000"/>
<rect x="157" y="1097" width="2" height="1" fill="#000"/>
<rect x="555" y="1097" width="3" height="1" fill="#000"/>
<rect x="157" y="1115" width="2" height="1" fill="#000"/>
<rect x="555" y="1115" width="3" height="1" fill="#000"/>
<rect x="157" y="1150" width="2" height="1" fill="#000"/>
<rect x="555" y="1150" width="3" height="1" fill="#000"/>
<rect x="157" y="1168" width="2" height="1" fill="#000"/>
<rect x="555" y="1168" width="3" height="1" fill="#000"/>
<rect x="157" y="1186" width="2" height="1" fill="#000"/>
<rect x="555" y="1186" width="3" height="1" fill="#000"/>
<rect x="157" y="1204" width="2" height="1" fill="#000"/>
<rect x="555" y="1204" width="3" height="1" fill="#000"/>
<rect x="157" y="1240" width="2" height="1" fill="#000"/>
<rect x="555" y="1240" width="3" height="1" fill="#000"/>
<rect x="157" y="1258" width="2" height="1" fill="#000"/>
<rect x="555" y="1258" width="3" height="1" fill="#000"/>
<rect x="157" y="1276" width="2" height="1" fill="#000"/>
<rect x="555" y="1276" width="3" height="1" fill="#000"/>
<rect x="157" y="1294" width="2" height="1" fill="#000"/>
<rect x="555" y="1294" width="3" height="1" fill="#000"/>
<rect x="157" y="1330" width="2" height="1" fill="#000"/>
<rect x="555" y="1330" width="3" height="1" fill="#000"/>
<rect x="157" y="1348" width="2" height="1" fill="#000"/>
<rect x="555" y="1348" width="3" height="1" fill="#000"/>
<rect x="157" y="1366" width="2" height="1" fill="#000"/>
<rect x="555" y="1366" width="3" height="1" fill="#000"/>
<rect x="157" y="1384" width="2" height="1" fill="#000"/>
<rect x="555" y="1384" width="3" height="1" fill="#000"/>
<rect x="407" y="1396" width="1" height="6" fill="#000"/>
<rect x="407" y="865" width="1" height="6" fill="#000"/>
</g>
<g font-family="Liberation Sans, sans-serif" font-size="25" fill="#000">
<text transform="translate(150 873.8) scale(1 0.945)" text-anchor="end" >3</text>
<text transform="translate(150 962.8) scale(1 0.945)" text-anchor="end" >2.5</text>
<text transform="translate(150 1052.8) scale(1 0.945)" text-anchor="end" >2</text>
<text transform="translate(150 1142.8) scale(1 0.945)" text-anchor="end" >1.5</text>
<text transform="translate(150 1231.8) scale(1 0.945)" text-anchor="end" >1</text>
<text transform="translate(150 1321.8) scale(1 0.945)" text-anchor="end" >0.5</text>
<text transform="translate(150 1411.8) scale(1 0.945)" text-anchor="end" >0</text>
<text x="158.9" y="843.7" text-anchor="start" letter-spacing="0.1">20121021 060508 S4 red(150MHz)</text>
<text transform="translate(407.5 1431.3) scale(1 0.945)" text-anchor="middle" >06:15</text>
<text x="203.2" y="1461" text-anchor="start" letter-spacing="0.14">UT, from 06:05 to 06:21 UT</text>
<text transform="translate(99,1135) rotate(-90)" text-anchor="middle">S4</text>
</g>
</g>
<g id="amp">
<g stroke="#000" stroke-width="1" shape-rendering="crispEdges" fill="none">
<line x1="935.5" y1="865" x2="935.5" y2="1402" stroke-dasharray="1 4" stroke-dashoffset="-2"/>
<line x1="685" y1="971.5" x2="1086" y2="971.5" stroke-dasharray="1 4" stroke-dashoffset="-2"/>
<line x1="685" y1="1079.5" x2="1086" y2="1079.5" stroke-dasharray="1 4" stroke-dashoffset="-2"/>
<line x1="685" y1="1186.5" x2="1086" y2="1186.5" stroke-dasharray="1 4" stroke-dashoffset="-2"/>
<line x1="685" y1="1294.5" x2="1086" y2="1294.5" stroke-dasharray="1 4" stroke-dashoffset="-2"/>
</g>
<path d="M687.5 1399V1402M688.5 1399V1402M689.5 1398V1402M689.5 1399V1402M690.5 1399V1402M691.5 1399V1402M692.5 1399V1402M693.5 1399V1402M694.5 1399V1402M695.5 1399V1402M696.5 1399V1402M697.5 1399V1402M698.5 1399V1402M699.5 1399V1402M700.5 1398V1402M701.5 1399V1402M702.5 1398V1402M703.5 1398V1402M704.5 1399V1402M705.5 1398V1402M705.5 1399V1402M706.5 1399V1402M707.5 1399V1402M708.5 1399V1402M709.5 1399V1402M710.5 1399V1402M711.5 1399V1402M712.5 1399V1402M713.5 1397V1402M713.5 1399V1402M714.5 1398V1402M714.5 1399V1402M715.5 1399V1402M716.5 1399V1402M717.5 1399V1402M718.5 1399V1402M719.5 1399V1402M720.5 1398V1402M721.5 1399V1402M722.5 1399V1402M723.5 1399V1402M724.5 1399V1402M725.5 1399V1402M726.5 1399V1402M727.5 1399V1402M728.5 1399V1402M729.5 1399V1402M730.5 1399V1402M731.5 1398V1402M732.5 1399V1402M733.5 1398V1402M734.5 1399V1402M735.5 1398V1402M736.5 1399V1402M737.5 1399V1402M738.5 1393V1402M738.5 1399V1402M739.5 1398V1402M739.5 1399V1402M740.5 1398V1402M741.5 1399V1402M742.5 1399V1402M743.5 1399V1402M744.5 1399V1402M745.5 1399V1402M746.5 1399V1402M747.5 1399V1402M748.5 1399V1402M749.5 1399V1402M750.5 1399V1402M751.5 1398V1402M751.5 1399V1402M752.5 1399V1402M753.5 1398V1402M754.5 1399V1402M755.5 1399V1402M756.5 1399V1402M757.5 1398V1402M758.5 1399V1402M759.5 1399V1402M760.5 1398V1402M761.5 1399V1402M762.5 1399V1402M763.5 1398V1402M764.5 1399V1402M765.5 1398V1402M766.5 1399V1402M767.5 1399V1402M768.5 1399V1402M769.5 1399V1402M770.5 1398V1402M770.5 1399V1402M771.5 1398V1402M772.5 1399V1402M773.5 1399V1402M774.5 1398V1402M775.5 1399V1402M776.5 1399V1402M777.5 1399V1402M778.5 1398V1402M779.5 1398V1402M780.5 1398V1402M781.5 1399V1402M782.5 1399V1402M783.5 1399V1402M784.5 1399V1402M785.5 1399V1402M786.5 1399V1402M787.5 1399V1402M788.5 1399V1402M789.5 1399V1402M790.5 1399V1402M791.5 1399V1402M792.5 1399V1402M793.5 1399V1402M794.5 1399V1402M795.5 1399V1402M796.5 1399V1402M797.5 1399V1402M798.5 1399V1402M799.5 1399V1402M800.5 1399V1402M801.5 1399V1402M802.5 1399V1402M803.5 1399V1402M804.5 1399V1402M805.5 1399V1402M806.5 1399V1402M807.5 1399V1402M808.5 1399V1402M809.5 1399V1402M810.5 1399V1402M811.5 1399V1402M812.5 1399V1402M813.5 1399V1402M814.5 1399V1402M815.5 1399V1402M816.5 1399V1402M817.5 1399V1402M818.5 1399V1402M819.5 1399V1402M820.5 1399V1402M821.5 1399V1402M822.5 1399V1402M823.5 1399V1402M824.5 1399V1402M825.5 1399V1402M826.5 1399V1402M827.5 1399V1402M828.5 1399V1402M829.5 1399V1402M830.5 1399V1402M831.5 1399V1402M832.5 1399V1402M833.5 1399V1402M834.5 1399V1402M835.5 1399V1402M836.5 1399V1402M837.5 1399V1402M838.5 1399V1402M839.5 1399V1402M840.5 1399V1402M841.5 1399V1402M842.5 1399V1402M843.5 1399V1402M844.5 1399V1402M845.5 1399V1402M846.5 1399V1402M847.5 1399V1402M848.5 1399V1402M849.5 1399V1402M850.5 1399V1402M851.5 1399V1402M852.5 1399V1402M853.5 1399V1402M854.5 1399V1402M855.5 1399V1402M856.5 1399V1402M857.5 1399V1402M858.5 1399V1402M859.5 1399V1402M860.5 1399V1402M861.5 1399V1402M862.5 1399V1402M863.5 1399V1402M864.5 1399V1402M865.5 1399V1402M866.5 1399V1402M867.5 1399V1402M868.5 1399V1402M869.5 1399V1402M870.5 1399V1402M871.5 1399V1402M872.5 1399V1402M873.5 1399V1402M874.5 1399V1402M875.5 1399V1402M876.5 1399V1402M877.5 1399V1402M878.5 1399V1402M879.5 1399V1402M880.5 1399V1402M881.5 1399V1402M882.5 1399V1402M883.5 1399V1402M884.5 1399V1402M885.5 1399V1402M886.5 1399V1402M887.5 1399V1402M888.5 1399V1402M889.5 1399V1402M890.5 1399V1402M891.5 1399V1402M892.5 1399V1402M893.5 1399V1402M894.5 1399V1402M895.5 1399V1402M896.5 1399V1402M897.5 1399V1402M898.5 1399V1402M899.5 1399V1402M900.5 1399V1402M901.5 1399V1402M902.5 1399V1402M903.5 1399V1402M904.5 1399V1402M905.5 1399V1402M906.5 1399V1402M907.5 1399V1402M908.5 1399V1402M909.5 1399V1402M910.5 1399V1402M911.5 1399V1402M912.5 1399V1402M913.5 1399V1402M914.5 1399V1402M915.5 1399V1402M916.5 1399V1402M917.5 1399V1402M918.5 1399V1402M919.5 1399V1402M920.5 1399V1402M921.5 1399V1402M922.5 1399V1402M923.5 1399V1402M924.5 1399V1402M925.5 1399V1402M926.5 1399V1402M927.5 1399V1402M928.5 1399V1402M929.5 1399V1402M930.5 1399V1402M931.5 1399V1402M932.5 1399V1402M933.5 1399V1402M934.5 1399V1402M935.5 1399V1402M936.5 1399V1402M937.5 1399V1402M938.5 1399V1402M939.5 1399V1402M940.5 1399V1402M941.5 1399V1402M942.5 1399V1402M943.5 1399V1402M944.5 1399V1402M945.5 1399V1402M946.5 1399V1402M947.5 1399V1402M948.5 1399V1402M949.5 1399V1402M950.5 1399V1402M951.5 1399V1402M952.5 1399V1402M953.5 1399V1402M954.5 1399V1402M955.5 1399V1402M956.5 1399V1402M957.5 1399V1402M958.5 1399V1402M959.5 1399V1402M960.5 1399V1402M961.5 1399V1402M962.5 1399V1402M963.5 1399V1402M964.5 1399V1402M965.5 1399V1402M966.5 1399V1402M967.5 1399V1402M968.5 1399V1402M969.5 1399V1402M970.5 1399V1402M971.5 1399V1402M972.5 1399V1402M973.5 1399V1402M974.5 1399V1402M975.5 1399V1402M976.5 1399V1402M977.5 1399V1402M978.5 1399V1402M979.5 1399V1402M980.5 1399V1402M981.5 1399V1402M982.5 1399V1402M983.5 1399V1402M984.5 1399V1402M985.5 1399V1402M986.5 1399V1402M987.5 1399V1402M988.5 1399V1402M989.5 1399V1402M990.5 1399V1402M991.5 1399V1402M992.5 1399V1402M993.5 1399V1402M994.5 1399V1402M995.5 1399V1402M996.5 1399V1402M997.5 1399V1402M998.5 1399V1402M999.5 1399V1402M1000.5 1399V1402M1001.5 1399V1402M1002.5 1399V1402M1003.5 1399V1402M1004.5 1399V1402M1005.5 1399V1402M1006.5 1399V1402M1007.5 1399V1402M1008.5 1399V1402M1009.5 1399V1402M1010.5 1399V1402M1011.5 1399V1402M1012.5 1399V1402M1013.5 1399V1402M1014.5 1399V1402M1015.5 1399V1402M1016.5 1399V1402M1017.5 1399V1402M1018.5 1399V1402M1019.5 1399V1402M1020.5 1399V1402M1021.5 1399V1402M1022.5 1399V1402M1023.5 1399V1402M1024.5 1399V1402M1025.5 1399V1402M1026.5 1399V1402M1027.5 1399V1402M1028.5 1399V1402M1029.5 1399V1402M1030.5 1399V1402M1031.5 1399V1402M1032.5 1399V1402M1033.5 1399V1402M1034.5 1399V1402M1035.5 1399V1402M1036.5 1399V1402M1037.5 1399V1402M1038.5 1399V1402M1039.5 1399V1402M1040.5 1399V1402M1041.5 1399V1402M1042.5 1399V1402M1043.5 1399V1402M1044.5 1399V1402M1045.5 1399V1402M1046.5 1399V1402M1047.5 1399V1402M1048.5 1399V1402M1049.5 1399V1402M1050.5 1399V1402M1051.5 1399V1402M1052.5 1399V1402M1053.5 1399V1402M1054.5 1399V1402M1055.5 1399V1402M1056.5 1399V1402M1057.5 1399V1402M1058.5 1399V1402M1059.5 1399V1402M1060.5 1399V1402M1061.5 1399V1402M1062.5 1399V1402M1063.5 1399V1402M1064.5 1399V1402M1065.5 1399V1402M1066.5 1399V1402M1067.5 1399V1402M1068.5 1399V1402M1069.5 1399V1402M1070.5 1399V1402M1071.5 1399V1402M1072.5 1399V1402M1073.5 1399V1402M1074.5 1399V1402M1075.5 1399V1402M1076.5 1399V1402M1077.5 1399V1402M1078.5 1399V1402M1079.5 1399V1402M1080.5 1399V1402M1081.5 1399V1402M1082.5 1399V1402M1083.5 1399V1402M1084.5 1399V1402M1085.5 1399V1402M1086.5 1399V1402" stroke="#f00" stroke-width="1" fill="none" shape-rendering="crispEdges"/>
<path d="M687.5 1135.5V1234.2M688.5 1125.0V1240.2M689.5 1126.7V1246.2M690.5 1128.4V1243.3M691.5 1142.1V1236.5M692.5 1143.8V1238.6M693.5 1139.6V1243.6M694.5 1146.9V1252.6M695.5 1146.4V1262.6M696.5 1152.1V1250.4M697.5 1155.3V1239.8M698.5 1145.9V1257.8M699.5 1152.1V1240.8M700.5 1138.9V1237.6M701.5 1153.1V1249.4M702.5 1160.0V1252.7M703.5 1151.9V1247.7M704.5 1155.5V1265.8M705.5 1163.3V1257.0M706.5 1163.3V1248.6M707.5 1165.6V1242.0M708.5 1160.2V1259.5M709.5 1169.7V1254.4M710.5 1169.5V1249.3M711.5 1170.5V1244.6M712.5 1169.9V1244.1M713.5 1171.8V1255.1M714.5 1173.4V1254.4M715.5 1170.8V1267.3M716.5 1171.9V1269.4M717.5 1173.0V1256.6M718.5 1152.3V1272.2M719.5 1173.6V1252.8M720.5 1160.5V1252.0M721.5 1174.4V1274.4M722.5 1172.4V1257.3M723.5 1181.2V1275.1M724.5 1179.6V1252.1M725.5 1175.6V1252.7M726.5 1183.6V1269.5M727.5 1184.2V1288.2M728.5 1180.3V1286.8M729.5 1182.9V1264.4M730.5 1184.2V1255.1M731.5 1164.1V1266.1M732.5 1185.8V1257.4M733.5 1176.3V1257.8M734.5 1186.4V1269.1M735.5 1186.5V1268.0M736.5 1180.9V1265.2M737.5 1172.8V1265.1M738.5 1189.7V1261.1M739.5 1180.3V1280.3M740.5 1184.6V1264.2M741.5 1190.5V1266.4M742.5 1189.5V1280.3M743.5 1181.4V1267.0M744.5 1178.1V1287.6M745.5 1174.0V1266.0M746.5 1191.0V1265.9M747.5 1193.4V1267.7M748.5 1171.3V1271.5M749.5 1185.7V1271.1M750.5 1196.2V1268.4M751.5 1197.4V1269.7M752.5 1198.2V1279.2M753.5 1196.1V1270.4M754.5 1198.9V1269.6M755.5 1188.0V1271.2M756.5 1198.1V1282.7M757.5 1194.4V1279.0M758.5 1202.8V1278.9M759.5 1195.5V1271.2M760.5 1203.8V1280.4M761.5 1201.1V1281.9M762.5 1181.7V1298.2M763.5 1201.3V1284.7M764.5 1187.2V1280.5M765.5 1195.2V1282.2M766.5 1204.4V1277.5M767.5 1204.5V1275.1M768.5 1207.0V1282.7M769.5 1184.7V1279.1M770.5 1199.3V1280.9M771.5 1199.4V1277.3M772.5 1203.7V1280.8M773.5 1208.6V1306.3M774.5 1188.7V1304.9M775.5 1208.6V1293.5M776.5 1203.4V1277.3M777.5 1209.7V1278.7M778.5 1208.8V1279.9M779.5 1200V1402M779.5 1200.5V1282.4M780.5 1200V1402M781.5 1389V1402M781.5 1398V1402M782.5 1390V1402M782.5 1398V1402M783.5 1392V1402M783.5 1399V1402M784.5 1396V1402M784.5 1399V1402M785.5 1399V1402M786.5 1395V1402M786.5 1399V1402M787.5 1397V1402M787.5 1399V1402M788.5 1397V1402M789.5 1398V1402M790.5 1399V1402M791.5 1398V1402M792.5 1399V1402M793.5 1397V1402M794.5 1397V1402M795.5 1399V1402M796.5 1399V1402M797.5 1398V1402M798.5 1399V1402M799.5 1399V1402M800.5 1399V1402M801.5 1399V1402M802.5 1398V1402M803.5 1399V1402M804.5 1399V1402M805.5 1399V1402M806.5 1396V1402M807.5 1399V1402M808.5 1399V1402M809.5 1399V1402M810.5 1399V1402M811.5 1399V1402M812.5 1397V1402M813.5 1398V1402M814.5 1399V1402M815.5 1399V1402M816.5 1399V1402M817.5 1397V1402M818.5 1399V1402M819.5 1399V1402M820.5 1399V1402M821.5 1399V1402M822.5 1399V1402M823.5 1387V1402M823.5 1396V1402M824.5 1386V1402M824.5 1398V1402M825.5 1384V1402M825.5 1398V1402M826.5 1385V1402M826.5 1399V1402M827.5 1383V1402M827.5 1399V1402M828.5 1384V1402M828.5 1398V1402M829.5 1383V1402M829.5 1399V1402M830.5 1383V1402M830.5 1399V1402M831.5 1385V1402M831.5 1399V1402M832.5 1392V1402M832.5 1398V1402M833.5 1399V1402M834.5 1398V1402M835.5 1399V1402M836.5 1396V1402M837.5 1399V1402M838.5 1398V1402M839.5 1398V1402M840.5 1398V1402M841.5 1399V1402M842.5 1396V1402M843.5 1398V1402M844.5 1398V1402M845.5 1399V1402M846.5 1398V1402M847.5 1396V1402M847.5 1399V1402M848.5 1397V1402M848.5 1399V1402M849.5 1398V1402M850.5 1398V1402M851.5 1399V1402M852.5 1399V1402M853.5 1399V1402M854.5 1399V1402M855.5 1398V1402M856.5 1399V1402M857.5 1398V1402M858.5 1399V1402M859.5 1399V1402M860.5 1398V1402M861.5 1398V1402M862.5 1399V1402M863.5 1399V1402M864.5 1399V1402M865.5 1398V1402M866.5 1398V1402M867.5 1399V1402M868.5 1399V1402M869.5 1399V1402M870.5 1399V1402M871.5 1399V1402M872.5 1395V1402M872.5 1399V1402M873.5 1394V1402M873.5 1399V1402M874.5 1395V1402M874.5 1399V1402M875.5 1397V1402M875.5 1398V1402M876.5 1398V1402M877.5 1399V1402M878.5 1399V1402M879.5 1399V1402M880.5 1399V1402M881.5 1399V1402M882.5 1399V1402M883.5 1398V1402M884.5 1399V1402M885.5 1398V1402M886.5 1399V1402M887.5 1398V1402M888.5 1398V1402M889.5 1396V1402M890.5 1399V1402M891.5 1399V1402M892.5 1399V1402M893.5 1398V1402M894.5 1398V1402M895.5 1396V1402M895.5 1399V1402M896.5 1397V1402M896.5 1399V1402M897.5 1399V1402M898.5 1399V1402M899.5 1399V1402M900.5 1398V1402M901.5 1397V1402M901.5 1398V1402M902.5 1399V1402M903.5 1398V1402M904.5 1398V1402M905.5 1399V1402M906.5 1399V1402M907.5 1399V1402M908.5 1398V1402M909.5 1399V1402M910.5 1399V1402M911.5 1398V1402M912.5 1399V1402M913.5 1398V1402M914.5 1398V1402M915.5 1398V1402M916.5 1399V1402M917.5 1399V1402M918.5 1396V1402M919.5 1398V1402M920.5 1399V1402M921.5 1399V1402M922.5 1398V1402M923.5 1398V1402M924.5 1396V1402M925.5 1396V1402M926.5 1396V1402M926.5 1397V1402M927.5 1395V1402M927.5 1398V1402M928.5 1396V1402M928.5 1398V1402M929.5 1393V1402M929.5 1399V1402M930.5 1391V1402M930.5 1398V1402M931.5 1392V1402M931.5 1397V1402M932.5 1390V1402M932.5 1397V1402M933.5 1391V1402M933.5 1398V1402M934.5 1393V1402M934.5 1397V1402M935.5 1395V1402M935.5 1397V1402M936.5 1397V1402M937.5 1398V1402M938.5 1398V1402M939.5 1398V1402M940.5 1396V1402M941.5 1398V1402M942.5 1397V1402M943.5 1397V1402M944.5 1398V1402M945.5 1398V1402M946.5 1398V1402M947.5 1397V1402M948.5 1398V1402M949.5 1398V1402M950.5 1398V1402M951.5 1398V1402M952.5 1397V1402M953.5 1397V1402M954.5 1397V1402M955.5 1398V1402M956.5 1398V1402M957.5 1398V1402M958.5 1397V1402M959.5 1397V1402M960.5 1396V1402M961.5 1396V1402M962.5 1397V1402M963.5 1397V1402M964.5 1398V1402M965.5 1398V1402M966.5 1397V1402M967.5 1398V1402M968.5 1398V1402M969.5 1398V1402M970.5 1396V1402M971.5 1398V1402M972.5 1398V1402M973.5 1395V1402M974.5 1398V1402M975.5 1397V1402M976.5 1398V1402M977.5 1397V1402M978.5 1397V1402M979.5 1398V1402M980.5 1398V1402M981.5 1395V1402M981.5 1397V1402M982.5 1397V1402M983.5 1397V1402M984.5 1398V1402M985.5 1398V1402M986.5 1398V1402M987.5 1396V1402M988.5 1397V1402M989.5 1398V1402M990.5 1397V1402M991.5 1395V1402M991.5 1398V1402M992.5 1397V1402M993.5 1397V1402M994.5 1395V1402M995.5 1397V1402M996.5 1395V1402M997.5 1398V1402M998.5 1398V1402M999.5 1397V1402M1000.5 1397V1402M1001.5 1398V1402M1002.5 1398V1402M1003.5 1397V1402M1004.5 1398V1402M1005.5 1398V1402M1006.5 1397V1402M1007.5 1397V1402M1008.5 1397V1402M1009.5 1398V1402M1010.5 1397V1402M1011.5 1398V1402M1012.5 1397V1402M1013.5 1398V1402M1014.5 1397V1402M1015.5 1398V1402M1016.5 1397V1402M1017.5 1397V1402M1018.5 1398V1402M1019.5 1395V1402M1020.5 1397V1402M1021.5 1398V1402M1022.5 1397V1402M1023.5 1396V1402M1024.5 1396V1402M1025.5 1395V1402M1026.5 1398V1402M1027.5 1397V1402M1028.5 1397V1402M1029.5 1398V1402M1030.5 1398V1402M1031.5 1397V1402M1032.5 1398V1402M1033.5 1395V1402M1034.5 1397V1402M1035.5 1397V1402M1036.5 1397V1402M1037.5 1395V1402M1038.5 1398V1402M1039.5 1397V1402M1040.5 1398V1402M1041.5 1398V1402M1042.5 1397V1402M1043.5 1397V1402M1044.5 1398V1402M1045.5 1397V1402M1046.5 1397V1402M1047.5 1394V1402M1048.5 1395V1402M1049.5 1398V1402M1050.5 1398V1402M1051.5 1396V1402M1052.5 1398V1402M1053.5 1398V1402M1054.5 1398V1402M1055.5 1398V1402M1056.5 1397V1402M1057.5 1398V1402M1058.5 1397V1402M1059.5 1395V1402M1060.5 1397V1402M1061.5 1397V1402M1062.5 1397V1402M1063.5 1397V1402M1064.5 1398V1402M1065.5 1397V1402M1066.5 1398V1402M1067.5 1398V1402M1068.5 1397V1402M1069.5 1398V1402M1070.5 1397V1402M1071.5 1398V1402M1072.5 1397V1402M1073.5 1397V1402M1074.5 1397V1402M1075.5 1395V1402M1076.5 1396V1402M1077.5 1395V1402M1078.5 1397V1402M1079.5 1398V1402M1080.5 1397V1402M1081.5 1397V1402M1082.5 1397V1402M1083.5 1396V1402M1084.5 1398V1402M1085.5 1395V1402M1086.5 1397V1402" stroke="#00f" stroke-width="1" fill="none" shape-rendering="crispEdges"/>
<path d="M797.5 1398V1400M798.5 1398V1400M810.5 1398V1400M816.5 1398V1400M836.5 1398V1400M838.5 1398V1400M839.5 1398V1400M842.5 1398V1400M852.5 1398V1400M853.5 1398V1400M861.5 1398V1400M864.5 1398V1400M866.5 1398V1400M868.5 1398V1400M884.5 1398V1400M885.5 1398V1400M897.5 1398V1400M898.5 1398V1400M899.5 1398V1400M908.5 1398V1400M991.5 1398V1400" stroke="#f00" stroke-width="1" fill="none" shape-rendering="crispEdges"/>
<g stroke="#000" stroke-width="1" shape-rendering="crispEdges" fill="none">
<line x1="709.5" y1="865" x2="709.5" y2="1402" stroke-dasharray="1 4" stroke-dashoffset="-3"/>
<line x1="734.5" y1="865" x2="734.5" y2="1402" stroke-dasharray="1 4" stroke-dashoffset="-1"/>
<line x1="759.5" y1="865" x2="759.5" y2="1402" stroke-dasharray="1 4" stroke-dashoffset="-4"/>
<line x1="784.5" y1="865" x2="784.5" y2="1402" stroke-dasharray="1 4" stroke-dashoffset="-2"/>
<line x1="809.5" y1="865" x2="809.5" y2="1402" stroke-dasharray="1 4" stroke-dashoffset="0"/>
<line x1="834.5" y1="865" x2="834.5" y2="1402" stroke-dasharray="1 4" stroke-dashoffset="-3"/>
<line x1="859.5" y1="865" x2="859.5" y2="1402" stroke-dasharray="1 4" stroke-dashoffset="-1"/>
<line x1="885.5" y1="865" x2="885.5" y2="1402" stroke-dasharray="1 4" stroke-dashoffset="-4"/>
<line x1="910.5" y1="865" x2="910.5" y2="1402" stroke-dasharray="1 4" stroke-dashoffset="-2"/>
<line x1="935.5" y1="865" x2="935.5" y2="1402" stroke-dasharray="1 4" stroke-dashoffset="0"/>
<line x1="960.5" y1="865" x2="960.5" y2="1402" stroke-dasharray="1 4" stroke-dashoffset="-3"/>
<line x1="985.5" y1="865" x2="985.5" y2="1402" stroke-dasharray="1 4" stroke-dashoffset="-1"/>
<line x1="1010.5" y1="865" x2="1010.5" y2="1402" stroke-dasharray="1 4" stroke-dashoffset="-4"/>
<line x1="1035.5" y1="865" x2="1035.5" y2="1402" stroke-dasharray="1 4" stroke-dashoffset="-2"/>
<line x1="1060.5" y1="865" x2="1060.5" y2="1402" stroke-dasharray="1 4" stroke-dashoffset="0"/>
</g>
<g fill="#000" shape-rendering="crispEdges">
<rect x="684" y="864" width="403" height="1" fill="#000"/>
<rect x="684" y="1402" width="403" height="1" fill="#000"/>
<rect x="684" y="864" width="1" height="539" fill="#000"/>
<rect x="1086" y="864" width="1" height="539" fill="#000"/>
<rect x="685" y="864" width="5" height="1" fill="#000"/>
<rect x="1081" y="864" width="5" height="1" fill="#000"/>
<rect x="685" y="971" width="5" height="1" fill="#000"/>
<rect x="1081" y="971" width="5" height="1" fill="#000"/>
<rect x="685" y="1079" width="5" height="1" fill="#000"/>
<rect x="1081" y="1079" width="5" height="1" fill="#000"/>
<rect x="685" y="1186" width="5" height="1" fill="#000"/>
<rect x="1081" y="1186" width="5" height="1" fill="#000"/>
<rect x="685" y="1294" width="5" height="1" fill="#000"/>
<rect x="1081" y="1294" width="5" height="1" fill="#000"/>
<rect x="685" y="1402" width="5" height="1" fill="#000"/>
<rect x="1081" y="1402" width="5" height="1" fill="#000"/>
<rect x="685" y="885" width="2" height="1" fill="#000"/>
<rect x="1083" y="885" width="3" height="1" fill="#000"/>
<rect x="685" y="907" width="2" height="1" fill="#000"/>
<rect x="1083" y="907" width="3" height="1" fill="#000"/>
<rect x="685" y="928" width="2" height="1" fill="#000"/>
<rect x="1083" y="928" width="3" height="1" fill="#000"/>
<rect x="685" y="950" width="2" height="1" fill="#000"/>
<rect x="1083" y="950" width="3" height="1" fill="#000"/>
<rect x="685" y="993" width="2" height="1" fill="#000"/>
<rect x="1083" y="993" width="3" height="1" fill="#000"/>
<rect x="685" y="1014" width="2" height="1" fill="#000"/>
<rect x="1083" y="1014" width="3" height="1" fill="#000"/>
<rect x="685" y="1036" width="2" height="1" fill="#000"/>
<rect x="1083" y="1036" width="3" height="1" fill="#000"/>
<rect x="685" y="1057" width="2" height="1" fill="#000"/>
<rect x="1083" y="1057" width="3" height="1" fill="#000"/>
<rect x="685" y="1100" width="2" height="1" fill="#000"/>
<rect x="1083" y="1100" width="3" height="1" fill="#000"/>
<rect x="685" y="1122" width="2" height="1" fill="#000"/>
<rect x="1083" y="1122" width="3" height="1" fill="#000"/>
<rect x="685" y="1143" width="2" height="1" fill="#000"/>
<rect x="1083" y="1143" width="3" height="1" fill="#000"/>
<rect x="685" y="1165" width="2" height="1" fill="#000"/>
<rect x="1083" y="1165" width="3" height="1" fill="#000"/>
<rect x="685" y="1208" width="2" height="1" fill="#000"/>
<rect x="1083" y="1208" width="3" height="1" fill="#000"/>
<rect x="685" y="1229" width="2" height="1" fill="#000"/>
<rect x="1083" y="1229" width="3" height="1" fill="#000"/>
<rect x="685" y="1251" width="2" height="1" fill="#000"/>
<rect x="1083" y="1251" width="3" height="1" fill="#000"/>
<rect x="685" y="1272" width="2" height="1" fill="#000"/>
<rect x="1083" y="1272" width="3" height="1" fill="#000"/>
<rect x="685" y="1315" width="2" height="1" fill="#000"/>
<rect x="1083" y="1315" width="3" height="1" fill="#000"/>
<rect x="685" y="1337" width="2" height="1" fill="#000"/>
<rect x="1083" y="1337" width="3" height="1" fill="#000"/>
<rect x="685" y="1358" width="2" height="1" fill="#000"/>
<rect x="1083" y="1358" width="3" height="1" fill="#000"/>
<rect x="685" y="1380" width="2" height="1" fill="#000"/>
<rect x="1083" y="1380" width="3" height="1" fill="#000"/>
<rect x="935" y="1396" width="1" height="6" fill="#000"/>
<rect x="935" y="865" width="1" height="6" fill="#000"/>
</g>
<g font-family="Liberation Sans, sans-serif" font-size="25" fill="#000">
<text transform="translate(678 873.8) scale(1 0.945)" text-anchor="end" >100</text>
<text transform="translate(678 980.8) scale(1 0.945)" text-anchor="end" >80</text>
<text transform="translate(678 1088.8) scale(1 0.945)" text-anchor="end" >60</text>
<text transform="translate(678 1195.8) scale(1 0.945)" text-anchor="end" >40</text>
<text transform="translate(678 1303.8) scale(1 0.945)" text-anchor="end" >20</text>
<text transform="translate(678 1411.8) scale(1 0.945)" text-anchor="end" >0</text>
<text x="676.2" y="843.7" text-anchor="start" letter-spacing="0.1">20121021 060508 Amp red(150MHz)</text>
<text transform="translate(935.5 1431.3) scale(1 0.945)" text-anchor="middle" >06:15</text>
<text x="731.2" y="1461" text-anchor="start" letter-spacing="0.14">UT, from 06:05 to 06:21 UT</text>
<text transform="translate(620,1133.5) rotate(-90)" text-anchor="middle">Amp</text>
</g>
</g>
</svg>
</body>
</html>
